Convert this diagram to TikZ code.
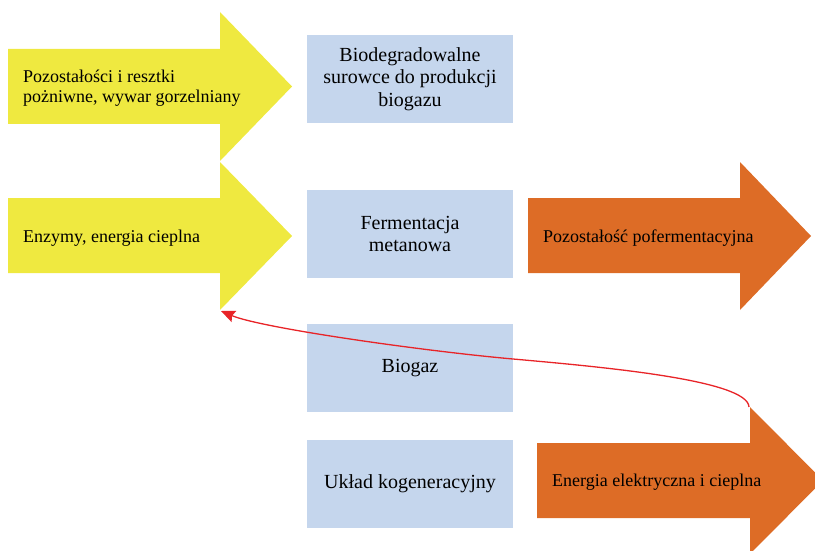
\documentclass[tikz,border=0pt]{standalone}
\usepackage{fontspec}
\setmainfont{Liberation Serif}
\usetikzlibrary{arrows.meta}
\definecolor{flowyellow}{RGB}{239,233,64}
\definecolor{floworange}{RGB}{221,108,38}
\definecolor{stagefill}{RGB}{197,214,237}
\definecolor{loopred}{RGB}{232,36,40}
\tikzset{
  stagebox/.style={fill=stagefill, draw=none, minimum width=206pt, minimum height=88pt,
    align=center, inner sep=0pt, font=\fontsize{20}{22.5}\selectfont},
  arrowtext/.style={anchor=west, align=left, inner sep=0pt, font=\fontsize{18}{20.5}\selectfont},
  loopline/.style={draw=loopred, line width=1.3pt, -{Stealth[length=14pt,width=12pt,inset=2pt]}}
}
\begin{document}
\begin{tikzpicture}[x=1pt,y=-1pt]
  \useasboundingbox (0,0) rectangle (815,551);

  % block arrows: body, then head, then tip
  \fill[flowyellow] (8,49) -- (220,49) -- (220,12) -- (292,86.5) -- (220,161) -- (220,124) -- (8,124) -- cycle;
  \fill[flowyellow] (8,198) -- (220,198) -- (220,162) -- (292,236) -- (220,310) -- (220,273) -- (8,273) -- cycle;
  \fill[floworange] (528,198) -- (740,198) -- (740,162) -- (811,236) -- (740,310) -- (740,273) -- (528,273) -- cycle;
  \fill[floworange] (537,443) -- (750,443) -- (750,407) -- (823,480.5) -- (750,554) -- (750,518) -- (537,518) -- cycle;

  \node[arrowtext] (inputs) at (23,88) {Pozostałości i resztki\\pożniwne, wywar gorzelniany};
  \node[arrowtext] (enzymes) at (23,238) {Enzymy, energia cieplna};
  \node[arrowtext] (digestate) at (543,238) {Pozostałość pofermentacyjna};
  \node[arrowtext] (power) at (552,482) {Energia elektryczna i cieplna};

  % process stages
  \node[stagebox] (feed) at (410,79) {Biodegradowalne\\surowce do produkcji\\biogazu};
  \node[stagebox] (ferment) at (410,234) {Fermentacja\\metanowa};
  \node[stagebox] (biogas) at (410,368) {Biogaz};
  \node[stagebox] (chp) at (410,483.5) {Układ kogeneracyjny};

  % heat returned from cogeneration to fermentation
  \coordinate (heatout) at (749,407);
  \coordinate (heatin) at (221,311);
  \coordinate (mid) at (513,359);
  \draw[loopline] (heatout) .. controls (748,380) and (603,367) .. (mid)
    .. controls (423,351) and (261,328) .. (heatin);
\end{tikzpicture}
\end{document}
